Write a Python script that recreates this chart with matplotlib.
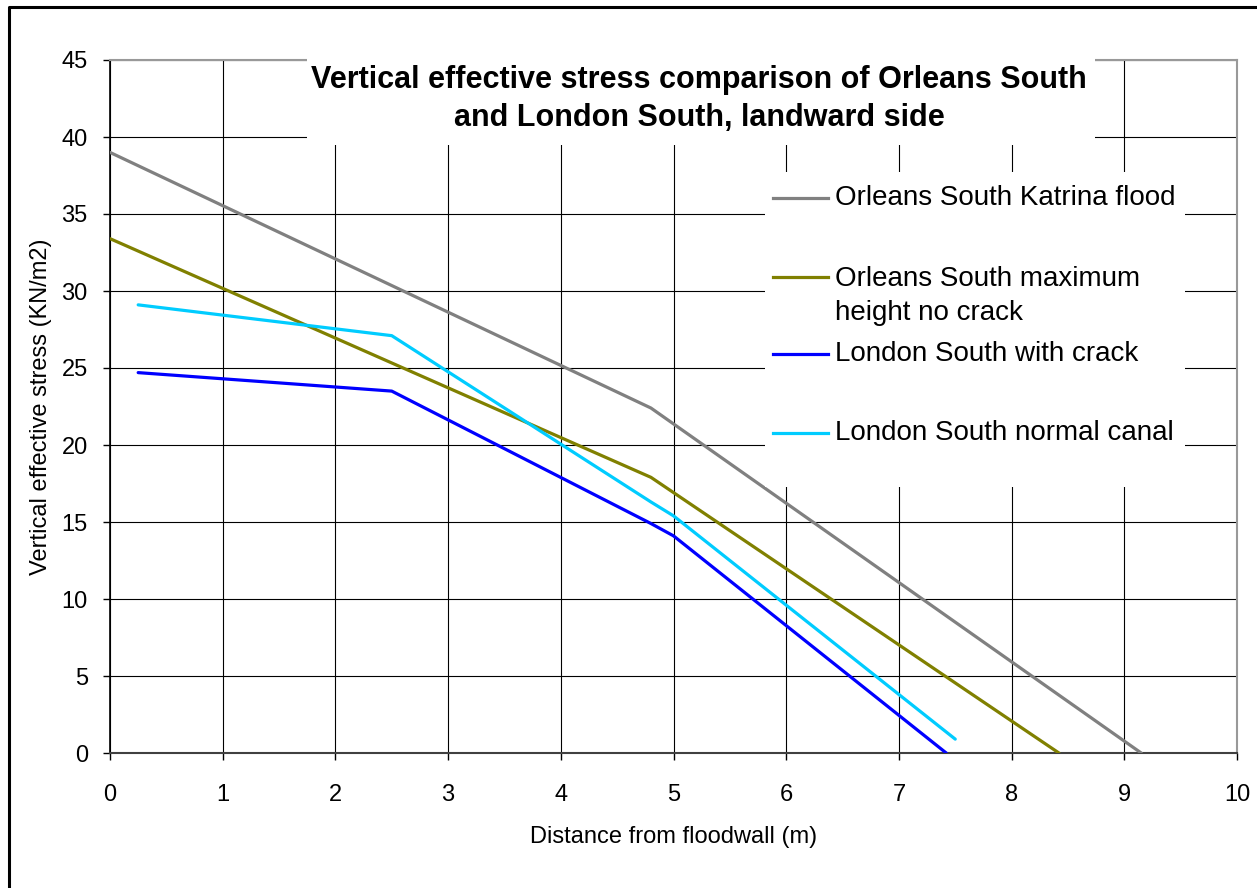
import matplotlib
matplotlib.use("Agg")
import matplotlib.pyplot as plt
from matplotlib.lines import Line2D
from matplotlib.patches import Rectangle

plt.rcParams['font.family'] = ['Liberation Sans', 'DejaVu Sans']

# ---- data ----
katrina_x = [0, 4.8, 9.15]
katrina_y = [39.0, 22.4, 0.0]

maxh_x = [0, 4.8, 8.42]
maxh_y = [33.4, 17.9, 0.0]

crack_x = [0.25, 2.5, 4.8, 5.0, 7.42]
crack_y = [24.7, 23.5, 14.9, 14.1, 0.0]

normal_x = [0.25, 2.5, 4.8, 5.0, 7.5]
normal_y = [29.1, 27.1, 16.3, 15.4, 0.9]

series = [
    (katrina_x, katrina_y, '#808080', 'Orleans South Katrina flood'),
    (maxh_x, maxh_y, '#808000', 'Orleans South maximum\nheight no crack'),
    (crack_x, crack_y, '#0000FF', 'London South with crack'),
    (normal_x, normal_y, '#00CCFF', 'London South normal canal'),
]

xticks = list(range(0, 11))
yticks = list(range(0, 46, 5))

W, H = 1257, 888
fig = plt.figure(figsize=(W / 100, H / 100), dpi=100)


def fx(x):
    return x / W


def fy(y):
    return 1 - y / H


ax = fig.add_axes([fx(110), fy(753), fx(1237) - fx(110), fy(60) - fy(753)])

for xs, ys, col, lab in series:
    ax.plot(xs, ys, color=col, lw=2.3, solid_capstyle='round', zorder=3)

ax.set_xlim(0, 10)
ax.set_ylim(0, 45)
ax.set_xticks(xticks)
ax.set_yticks(yticks)
ax.grid(True, color='black', lw=0.8, zorder=1)
ax.set_axisbelow(True)
for s in ['top', 'right']:
    ax.spines[s].set_color('#999999')
    ax.spines[s].set_linewidth(1.5)
ax.spines['left'].set_color('black')
ax.spines['bottom'].set_color('#404040')
ax.spines['left'].set_linewidth(1.2)
ax.spines['bottom'].set_linewidth(1.5)
ax.tick_params(direction='out', length=5, width=1, labelsize=17)
ax.tick_params(axis='y', pad=11)
ax.tick_params(axis='x', pad=17)

ax.set_xlabel('Distance from floodwall (m)', fontsize=17, labelpad=15)
ax.set_ylabel('Vertical effective stress (KN/m2)', fontsize=17, labelpad=7)

# ---- title box ----
fig.add_artist(Rectangle((fx(307), fy(145)), fx(1095) - fx(307), fy(55) - fy(145),
                         transform=fig.transFigure, facecolor='white',
                         edgecolor='none', zorder=5))
fig.text(fx(699), fy(99), 'Vertical effective stress comparison of Orleans South\n'
         'and London South, landward side', ha='center', va='center',
         fontsize=22, fontweight='bold', linespacing=1.32, zorder=6)

# ---- legend ----
fig.add_artist(Rectangle((fx(765), fy(487)), fx(1185) - fx(765), fy(172) - fy(487),
                         transform=fig.transFigure, facecolor='white',
                         edgecolor='none', zorder=5))
leg_y = [198, 277, 354, 433]
for (xs, ys, col, lab), y in zip(series, leg_y):
    fig.add_artist(Line2D([fx(773), fx(828)], [fy(y), fy(y)], color=col, lw=2.3,
                          transform=fig.transFigure, zorder=6))
    if '\n' in lab:
        fig.text(fx(835), fy(y + 19), lab, ha='left', va='center', fontsize=20,
                 linespacing=1.4, zorder=6)
    else:
        fig.text(fx(835), fy(y), lab, ha='left', va='center', fontsize=20, zorder=6)

# ---- outer border (left and top only, rest is cropped) ----
fig.add_artist(Line2D([fx(9), fx(9), fx(1257)], [fy(888), fy(7), fy(7)],
                      color='black', lw=2.2, transform=fig.transFigure, zorder=10))

fig.savefig('out.png', dpi=100)
